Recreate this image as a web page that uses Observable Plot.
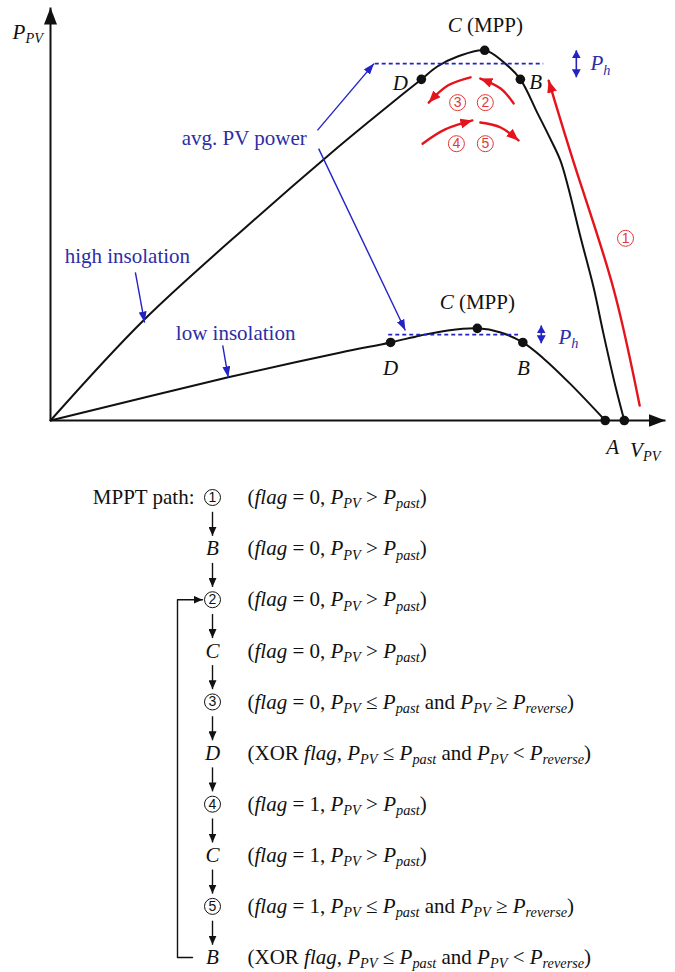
<!DOCTYPE html>
<html>
<head>
<meta charset="utf-8">
<script src="https://cdn.jsdelivr.net/npm/d3@7"></script>
<script src="https://cdn.jsdelivr.net/npm/@observablehq/plot@0.6"></script>
<style>
  html, body { margin: 0; padding: 0; background: #fff; }
  #fig { width: 675px; }
  #fig svg { display: block; }
</style>
</head>
<body>
<div id="fig"></div>
<script>
// ---- P–V curves (V and P as percent of the axis span) ----
const highV = [0, 15.1, 33.0, 45.5, 52.0, 57.4, 60.3, 62.9, 66.2, 70.6, 73.7, 76.4, 79.2, 81.0, 82.9, 84.2, 86.2, 88.3, 89.9, 91.9, 93.3];
const highP = [0, 24.1, 48.2, 64.3, 72.3, 78.8, 82.2, 85.3, 87.7, 89.2, 86.3, 82.2, 74.0, 68.7, 62.7, 56.1, 44.1, 32.1, 21.0, 8.0, 0];
const lowV = [0, 28.9, 47.2, 55.3, 60.2, 64.6, 69.4, 73.2, 76.8, 80.2, 84.6, 90.2];
const lowP = [0, 10.4, 16.4, 18.8, 20.5, 21.7, 22.2, 21.2, 18.8, 14.9, 8.7, 0];

// operating points D, C (MPP), B, A on each curve
const keyName = ["D", "C", "B", "A"];
const highKeyV = [60.3, 70.6, 76.4, 93.3];
const highKeyP = [82.2, 89.2, 82.2, 0];
const lowKeyV = [55.3, 69.4, 76.8, 90.2];
const lowKeyP = [18.8, 22.2, 18.8, 0];

// average PV power level and hysteresis band P_h
const avgP = [86.0, 20.7];
const avgFromV = [52.8, 55.0];
const avgToV = [80.2, 76.1];
const hystV = [85.5, 79.8];
const hystLowP = [82.7, 18.6];
const hystHighP = [89.2, 22.9];

// MPPT moves ①–⑤ (start, bend, end)
const moveStep = ["1","1","1","1", "2","2","2", "3","3","3", "4","4","4", "5","5","5"];
const moveV = [95.8, 91.5, 85.7, 81.0, 75.3, 73.2, 69.9, 68.3, 64.6, 61.5, 60.5, 64.1, 68.6, 69.9, 73.2, 76.1];
const moveP = [3.6, 32.0, 59.3, 81.9, 76.4, 80.0, 82.4, 82.7, 80.7, 76.6, 66.7, 70.1, 72.3, 71.8, 70.6, 67.5];
const stepNum = ["1", "2", "3", "4", "5"];
const stepV = [93.5, 70.7, 66.2, 66.0, 70.7];
const stepP = [43.9, 76.6, 76.6, 66.7, 66.7];

// curve annotations
const labelText = ["*C* (MPP)", "*C* (MPP)", "*D*", "*B*", "*D*", "*B*", "*A*", "*P*_{PV}", "*V*_{PV}"];
const labelV = [70.7, 69.4, 56.9, 78.9, 55.3, 76.9, 91.4, -3.7, 96.7];
const labelP = [95.2, 28.4, 81.2, 81.4, 12.5, 12.5, -6.5, 93.5, -7.2];
const noteText = ["avg. PV power", "high insolation", "low insolation"];
const noteV = [31.5, 12.5, 30.1];
const noteP = [68.0, 39.5, 21.0];
const phText = ["*P*_{h}", "*P*_{h}"];
const phV = [87.8, 82.6];
const phP = [86.0, 20.0];
const pointerFromV = [43.4, 43.6, 13.8, 28.0];
const pointerFromP = [69.9, 65.5, 35.7, 18.1];
const pointerToV = [52.6, 57.7, 15.3, 28.9];
const pointerToP = [86.0, 21.7, 23.6, 10.4];

// ---- MPPT path sequence ----
const pathNodes = ["1", "B", "2", "C", "3", "D", "4", "C", "5", "B"];
const pathConds = [
  "(*flag* = 0, *P*_{PV} > *P*_{past})",
  "(*flag* = 0, *P*_{PV} > *P*_{past})",
  "(*flag* = 0, *P*_{PV} > *P*_{past})",
  "(*flag* = 0, *P*_{PV} > *P*_{past})",
  "(*flag* = 0, *P*_{PV} ≤ *P*_{past} and *P*_{PV} ≥ *P*_{reverse})",
  "(XOR *flag*, *P*_{PV} ≤ *P*_{past} and *P*_{PV} < *P*_{reverse})",
  "(*flag* = 1, *P*_{PV} > *P*_{past})",
  "(*flag* = 1, *P*_{PV} > *P*_{past})",
  "(*flag* = 1, *P*_{PV} ≤ *P*_{past} and *P*_{PV} ≥ *P*_{reverse})",
  "(XOR *flag*, *P*_{PV} ≤ *P*_{past} and *P*_{PV} < *P*_{reverse})"
];
const loopFrom = 9, loopTo = 2;

// ---- helpers ----
const SVGNS = "http://www.w3.org/2000/svg";
const BLUE = "#2323c4", BLUE_TEXT = "#2d2da6", RED = "#e5141c", RED_SOFT = "#dd3a3a", INK = "#111";

// filled triangular arrow head
function head(len, wid, atStart = false) {
  return (color) => {
    const m = document.createElementNS(SVGNS, "marker");
    m.setAttribute("viewBox", `${-len} ${-wid / 2} ${len} ${wid}`);
    m.setAttribute("markerWidth", len);
    m.setAttribute("markerHeight", wid);
    m.setAttribute("markerUnits", "userSpaceOnUse");
    m.setAttribute("orient", atStart ? "auto-start-reverse" : "auto");
    m.setAttribute("refX", 0);
    m.setAttribute("refY", 0);
    const p = document.createElementNS(SVGNS, "path");
    p.setAttribute("d", `M0,0L${-len},${-wid / 2}L${-len},${wid / 2}Z`);
    p.setAttribute("fill", color);
    p.setAttribute("stroke", "none");
    m.appendChild(p);
    return m;
  };
}

// *italic* and _{subscript} markup inside text labels
function richText(root) {
  root.querySelectorAll("text").forEach((t) => {
    const s = t.textContent;
    if (!/[*_]/.test(s)) return;
    const size = parseFloat(getComputedStyle(t).fontSize) || 21;
    t.textContent = "";
    t.style.whiteSpace = "pre";
    const re = /\*([^*]+)\*|_\{([^}]+)\}|([^*_]+)/g;
    let m, lowered = false;
    while ((m = re.exec(s))) {
      const ts = document.createElementNS(SVGNS, "tspan");
      if (m[2] != null) {
        ts.textContent = m[2];
        ts.setAttribute("font-style", "italic");
        ts.setAttribute("font-size", (size * 0.68).toFixed(1));
        if (!lowered) ts.setAttribute("dy", (size * 0.2).toFixed(1));
        lowered = true;
      } else {
        ts.textContent = m[1] != null ? m[1] : m[3];
        if (m[1] != null) ts.setAttribute("font-style", "italic");
        if (lowered) ts.setAttribute("dy", (-size * 0.2).toFixed(1));
        lowered = false;
      }
      t.appendChild(ts);
    }
  });
}

// ---- tables built from the arrays ----
const high = highV.map((v, i) => ({v, p: highP[i]}));
const low = lowV.map((v, i) => ({v, p: lowP[i]}));
const keys = [
  ...keyName.map((k, i) => ({k, v: highKeyV[i], p: highKeyP[i]})),
  ...keyName.map((k, i) => ({k, v: lowKeyV[i], p: lowKeyP[i]}))
];
const bands = avgP.map((p, i) => ({p, v1: avgFromV[i], v2: avgToV[i]}));
const hyst = hystV.map((v, i) => ({v, p1: hystLowP[i], p2: hystHighP[i]}));
const moves = moveStep.map((s, i) => ({s, v: moveV[i], p: moveP[i]}));
const steps = stepNum.map((s, i) => ({s, v: stepV[i], p: stepP[i]}));
const labels = labelText.map((t, i) => ({t, v: labelV[i], p: labelP[i]}));
const notes = noteText.map((t, i) => ({t, v: noteV[i], p: noteP[i]}));
const phNotes = phText.map((t, i) => ({t, v: phV[i], p: phP[i]}));
const pointers = pointerFromV.map((v, i) => ({v1: v, p1: pointerFromP[i], v2: pointerToV[i], p2: pointerToP[i]}));

const chart = Plot.plot({
  width: 675,
  height: 470,
  marginLeft: 50,
  marginRight: 10,
  marginTop: 5,
  marginBottom: 50,
  x: {domain: [0, 100], axis: null},
  y: {domain: [0, 100], axis: null},
  style: {fontFamily: "'Liberation Serif', 'Times New Roman', serif", fontSize: "21px", background: "#fff", overflow: "visible"},
  marks: [
    // axes with arrow tips
    Plot.link([0], {x1: 0, y1: 0, x2: 0, y2: 99.5, stroke: INK, strokeWidth: 2, markerEnd: head(17, 13)}),
    Plot.link([0], {x1: 0, y1: 0, x2: 100, y2: 0, stroke: INK, strokeWidth: 2, markerEnd: head(17, 13)}),
    // P–V curves
    Plot.line(high, {x: "v", y: "p", curve: "catmull-rom", stroke: INK, strokeWidth: 2}),
    Plot.line(low, {x: "v", y: "p", curve: "catmull-rom", stroke: INK, strokeWidth: 2}),
    // average power levels and P_h band
    Plot.ruleY(bands, {y: "p", x1: "v1", x2: "v2", stroke: BLUE, strokeWidth: 1.8, strokeDasharray: "4,3"}),
    Plot.link(hyst, {x1: "v", x2: "v", y1: "p1", y2: "p2", stroke: BLUE, strokeWidth: 1.6, markerStart: head(8, 9, true), markerEnd: head(8, 9)}),
    Plot.link(pointers, {x1: "v1", y1: "p1", x2: "v2", y2: "p2", stroke: BLUE, strokeWidth: 1.4, markerEnd: head(11, 8)}),
    // MPPT moves
    Plot.line(moves, {x: "v", y: "p", z: "s", curve: "natural", stroke: RED, strokeWidth: 2.4, markerEnd: head(12, 10)}),
    Plot.dot(steps, {x: "v", y: "p", r: 8, stroke: RED_SOFT, strokeWidth: 1, fill: "#fff"}),
    Plot.text(steps, {x: "v", y: "p", text: "s", fill: RED_SOFT, fontFamily: "'Liberation Sans', Arial, sans-serif", fontSize: 14}),
    // operating points
    Plot.dot(keys, {x: "v", y: "p", r: 4.8, fill: INK}),
    // labels
    Plot.text(labels, {x: "v", y: "p", text: "t", fill: INK}),
    Plot.text(notes, {x: "v", y: "p", text: "t", fill: BLUE_TEXT}),
    Plot.text(phNotes, {x: "v", y: "p", text: "t", fill: BLUE_TEXT, textAnchor: "start"})
  ]
});

// ---- MPPT path chart ----
const col = {label: 194, node: 212, cond: 247, loop: 177};
const flowRows = pathNodes.map((n, i) => ({i, n, circled: !isNaN(+n), c: pathConds[i]}));
const loopX = [col.node - 20, col.loop, col.loop, col.node - 10];
const loopY = [loopFrom, loopFrom, loopTo, loopTo];
const loopPath = loopX.map((x, i) => ({x, y: loopY[i]}));

const flow = Plot.plot({
  width: 675,
  height: 502,
  marginLeft: 0,
  marginRight: 0,
  marginTop: 27,
  marginBottom: 15,
  x: {domain: [0, 675], axis: null},
  y: {domain: [0, pathNodes.length - 1], reverse: true, axis: null},
  style: {fontFamily: "'Liberation Serif', 'Times New Roman', serif", fontSize: "21px", background: "#fff", overflow: "visible"},
  marks: [
    Plot.text(["MPPT path:"], {x: col.label, y: 0, text: (d) => d, textAnchor: "end", fill: INK}),
    Plot.link(flowRows.slice(0, -1), {x1: col.node, x2: col.node, y1: (d) => d.i + 0.28, y2: (d) => d.i + 0.75, stroke: INK, strokeWidth: 1.4, markerEnd: head(9, 8)}),
    Plot.line(loopPath, {x: "x", y: "y", stroke: INK, strokeWidth: 1.4, markerEnd: head(9, 8)}),
    Plot.dot(flowRows.filter((d) => d.circled), {x: col.node, y: "i", r: 8, stroke: INK, strokeWidth: 1, fill: "#fff"}),
    Plot.text(flowRows.filter((d) => d.circled), {x: col.node, y: "i", text: "n", fill: INK, fontFamily: "'Liberation Sans', Arial, sans-serif", fontSize: 14}),
    Plot.text(flowRows.filter((d) => !d.circled), {x: col.node, y: "i", text: (d) => `*${d.n}*`, fill: INK}),
    Plot.text(flowRows, {x: col.cond, y: "i", text: "c", textAnchor: "start", fill: INK})
  ]
});

const fig = document.getElementById("fig");
fig.append(chart, flow);
richText(chart);
richText(flow);
</script>
</body>
</html>
